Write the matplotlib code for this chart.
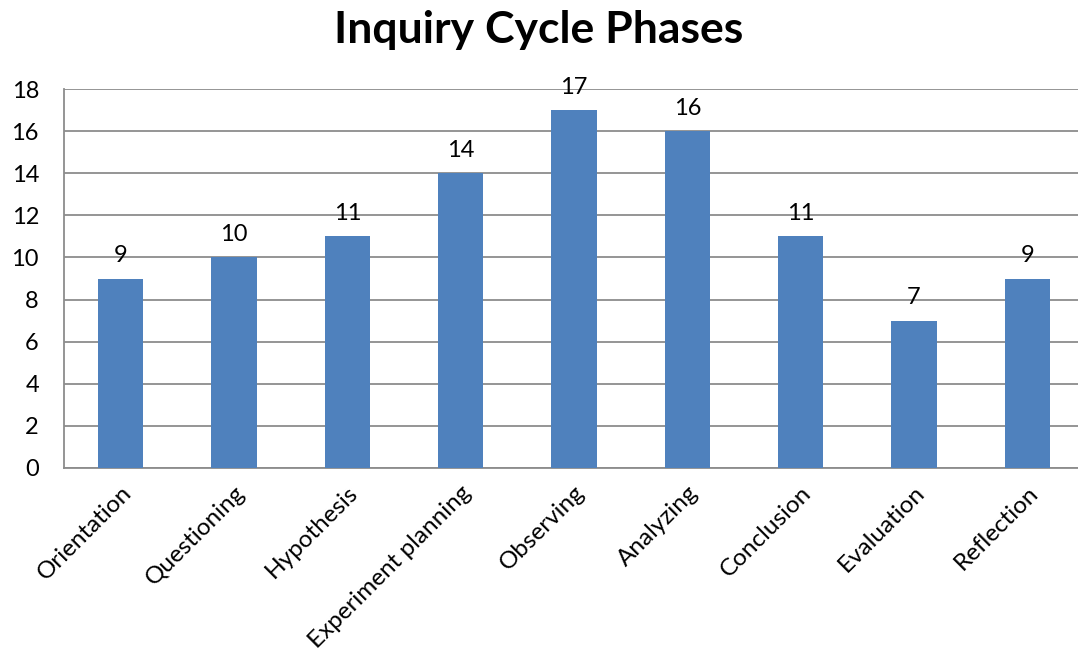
import matplotlib.pyplot as plt
import numpy as np

categories = ["Orientation", "Questioning", "Hypothesis", "Experiment planning",
              "Observing", "Analyzing", "Conclusion", "Evaluation", "Reflection"]
values = [9, 10, 11, 14, 17, 16, 11, 7, 9]
yticks = [0, 2, 4, 6, 8, 10, 12, 14, 16, 18]

plt.rcParams["font.family"] = ["Lato", "DejaVu Sans"]

fig = plt.figure(figsize=(10.78, 6.61), dpi=100)
ax = fig.add_axes([64 / 1078, 1 - 468 / 661, 1020 / 1078, 379 / 661])

x = np.arange(len(categories))
bars = ax.bar(x, values, width=0.4, color="#4f81bd", zorder=3)
for xi, v in zip(x, values):
    ax.annotate(str(v), (xi, v), xytext=(0, 9), textcoords="offset points",
                ha="center", va="bottom", fontsize=17)

ax.set_xlim(-0.5, len(categories) - 0.5)
ax.set_ylim(0, 18)
ax.set_yticks(yticks)
ax.yaxis.grid(True, color="#8c8c8c", linewidth=1.3, zorder=0)
ax.set_xticks(x)
ax.set_xticklabels(categories, rotation=45, ha="right", rotation_mode="anchor", fontsize=17.5)
ax.tick_params(axis="both", length=0)
ax.tick_params(axis="y", pad=18, labelsize=17)
ax.tick_params(axis="x", pad=10)

for side in ("top", "right"):
    ax.spines[side].set_visible(False)
for side in ("left", "bottom"):
    ax.spines[side].set_color("#8c8c8c")
    ax.spines[side].set_linewidth(1.3)

fig.text(0.5, 1 - 30 / 661, "Inquiry Cycle Phases", ha="center", va="center",
         fontsize=32, fontweight="bold")

fig.savefig("out.png", dpi=100)
